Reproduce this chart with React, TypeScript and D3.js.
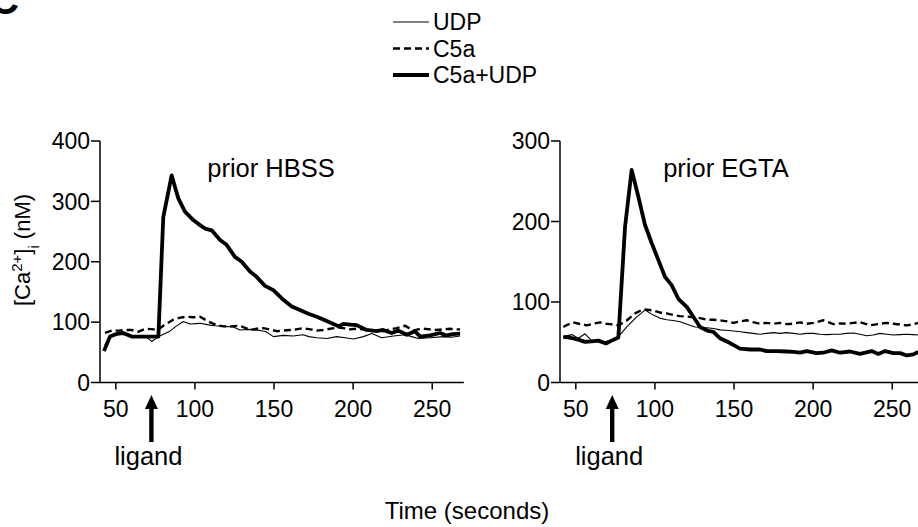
import React from "react";
import * as d3 from "d3";

// ---------- data ----------
const legendLabels = ["UDP", "C5a", "C5a+UDP"];
const panelTitles = ["prior HBSS", "prior EGTA"];
const xTicks = [50, 100, 150, 200, 250];
const leftYTicks = [0, 100, 200, 300, 400];
const rightYTicks = [0, 100, 200, 300];
const ligandTime = [72.5, 73];

// Left panel (prior HBSS)
const leftCombT = [42.5, 46.3, 50, 54.7, 60, 64, 68, 72, 76.9, 80, 85.3, 89.5, 93.7, 99, 102.5, 106.4, 110.6, 115.9, 120, 125.3, 129.6, 134.8, 139, 144.3, 149.6, 155.9, 161.2, 166.4, 171.7, 177, 182.2, 186.5, 190.7, 193.8, 198, 202.2, 208.5, 214.8, 219, 224.4, 228.6, 233.9, 239, 242.4, 248.6, 255, 259, 263, 267.6];
const leftCombV = [52, 76, 80, 82, 76, 76, 76, 76, 76, 274, 343, 305, 283, 269, 262, 255, 252, 236, 228, 208, 200, 184, 175, 160, 153, 137, 126, 120, 114, 109, 103, 98, 93, 97, 96, 95, 87, 85, 87, 82, 86, 79, 85, 76, 78, 82, 78, 80, 81];

const leftUdpT = [43, 46, 50, 55, 60, 65, 70, 72.7, 77, 84.2, 88, 92.7, 96.9, 103.2, 109.5, 113, 118, 124.3, 128.5, 134.8, 141.2, 145, 149.6, 155.9, 162.2, 168.5, 172, 177, 183.3, 189.6, 195, 200.2, 206.5, 211.8, 218.1, 225.5, 232.9, 237, 241.3, 248.6, 257, 262, 267.6];
const leftUdpV = [62, 76, 80, 79, 77, 76, 74, 68, 76, 85, 93, 101, 97, 98, 95, 94, 93, 92, 87, 88, 86, 84, 76, 78, 77, 79, 76, 74, 73, 76, 74, 72, 76, 81, 74, 77, 79, 76, 73, 74, 76, 75, 77];

const leftC5aT = [43.2, 47.4, 52, 56, 60, 64, 68.9, 74, 77, 80, 86.3, 90, 94.8, 99, 103.2, 108.5, 113.7, 118, 122.2, 128.5, 134.8, 139, 143.3, 147, 151.7, 156, 160.2, 164, 168.5, 173, 177, 181, 185.5, 190, 193.8, 198, 202.2, 206, 210.6, 215, 219, 223, 227.5, 232.9, 238, 241, 244.4, 248.6, 252.8, 257, 261.2, 264, 267.6];
const leftC5aV = [82, 86, 86, 87, 87, 84, 89, 88, 88, 94, 104, 107, 109, 108, 109, 101, 95, 93, 93, 94, 87, 89, 90, 88, 85, 86, 87, 88, 90, 88, 86, 87, 89, 91, 90, 88, 89, 88, 87, 86, 85, 88, 90, 94, 86, 88, 89, 88, 87, 88, 89, 88, 88];

// Right panel (prior EGTA)
const rightCombT = [42.1, 45, 48.4, 52, 55.8, 60, 64.2, 69.1, 72.6, 76.9, 81.1, 85.3, 89.5, 93.7, 98, 102.2, 106.4, 110.6, 114.8, 120.1, 124.3, 128.5, 133.7, 136.9, 141.1, 147.5, 153.8, 160.1, 166.4, 170.6, 177, 183.3, 187.5, 191.7, 195.9, 202.2, 206.4, 211.7, 217, 223.3, 229.6, 233, 237, 241.2, 245.5, 250.7, 255, 259.2, 263.4, 266.4];
const rightCombV = [56.7, 56, 54.7, 53, 50.5, 51, 52, 48.5, 52, 56, 193, 264, 231, 196, 173, 152, 131, 121, 104, 94, 81.6, 69, 64, 63, 55, 49, 42, 41, 41, 39, 39, 38.5, 38, 37, 39, 36.5, 37, 40, 37, 38.5, 35.5, 37, 39, 35.5, 39, 36.5, 36.5, 33.6, 35, 38];

const rightUdpT = [42.1, 47.4, 51.6, 55.8, 60, 64, 68.5, 72.6, 76.9, 82.2, 88.5, 93.7, 99, 103, 107.4, 111.5, 115.9, 122.2, 125.4, 132.8, 137, 141.2, 145, 149.6, 154, 158.1, 162, 166.4, 170.5, 174.9, 179, 183.3, 187.5, 191.7, 196, 200.2, 204.5, 208.6, 213, 217, 221, 225.4, 229.6, 233.8, 238, 242.2, 246.5, 250.7, 255, 259.2, 263, 266.3];
const rightUdpV = [56.7, 59.5, 55, 60.5, 52, 51, 50.5, 53, 57, 69, 81.6, 90, 83.7, 80, 78, 77, 75.4, 71, 69, 68, 67, 65.4, 65, 64, 63, 62, 61, 60, 61, 62, 61, 62, 61, 60, 61, 61, 60, 59.5, 60, 60, 61, 61.5, 60, 58, 59, 61, 60, 59, 59.5, 60, 59.5, 59];

const rightC5aT = [42.1, 45, 48.4, 52, 56.9, 61, 65.4, 69, 71.7, 76.9, 82.2, 87.4, 92.6, 99, 103, 107.4, 111.5, 115.9, 120, 124.3, 128.5, 132.8, 137, 141.2, 145.5, 149.6, 154, 158.1, 162, 166.4, 170.5, 174.9, 179, 183.3, 187.5, 191.7, 196, 200.2, 206.4, 212.8, 217, 221.2, 225.5, 229.6, 236, 242.3, 246.5, 250.7, 255, 259.2, 263, 266.3];
const rightC5aV = [69, 72, 74.7, 73, 71, 73, 74.7, 73, 72.5, 71, 77, 85.8, 91, 89.5, 87, 85.8, 84, 82.4, 82, 81, 80, 78, 78, 77.3, 76, 74, 76, 77.3, 75, 73, 74, 73, 74, 72.5, 73, 74.7, 73, 74, 77.3, 72.5, 73.5, 73, 74, 75, 71, 73, 74, 73, 72, 71, 72, 74];

// ---------- styles ----------
const FONT = "'Liberation Sans', Arial, Helvetica, sans-serif";
const FS = 23;
const FS_BIG = 25.5;
const seriesStyles = [
  { width: 1.1, dash: "none" },
  { width: 2.4, dash: "7,4" },
  { width: 3.8, dash: "none" },
];

const zip = (t: number[], v: number[]) => t.map((x, i) => [x, v[i]] as [number, number]);

type PanelProps = {
  x0: number;
  yMax: number;
  yTicks: number[];
  title: string;
  titleX: number;
  series: [number, number][][];
  ligand: number;
};

function Panel({ x0, yMax, yTicks, title, titleX, series, ligand }: PanelProps) {
  const xs = d3.scaleLinear().domain([40, 270]).range([x0, x0 + 230 * 1.582]);
  const ys = d3.scaleLinear().domain([0, yMax]).range([382.5, 141]);
  const line = d3
    .line<[number, number]>()
    .x((d) => xs(d[0]))
    .y((d) => ys(d[1]))
    .curve(d3.curveLinear);
  const axisY = ys(0);
  const ax = xs(ligand);
  const tipY = 395;
  const botY = 442;
  const arrowPath = `M${ax},${tipY} L${ax + 6.5},${tipY + 14} L${ax + 2.2},${tipY + 14} L${ax + 2.2},${botY} L${ax - 2.2},${botY} L${ax - 2.2},${tipY + 14} L${ax - 6.5},${tipY + 14} Z`;
  return (
    <g>
      {series.map((s, i) => (
        <path
          key={i}
          d={line(s) || ""}
          fill="none"
          stroke="#000"
          strokeWidth={seriesStyles[i].width}
          strokeDasharray={seriesStyles[i].dash}
          strokeLinejoin="round"
        />
      ))}
      {/* y axis */}
      <line x1={x0} x2={x0} y1={ys(yMax)} y2={axisY} stroke="#000" strokeWidth={1.5} />
      {yTicks.map((t) => (
        <g key={t}>
          <line x1={x0 - 9} x2={x0} y1={ys(t)} y2={ys(t)} stroke="#000" strokeWidth={1.5} />
          <text x={x0 - 10} y={ys(t)} dy="0.36em" textAnchor="end" fontSize={FS} fontFamily={FONT}>
            {t}
          </text>
        </g>
      ))}
      {/* x axis */}
      <line x1={x0} x2={xs(270)} y1={axisY} y2={axisY} stroke="#000" strokeWidth={1.5} />
      {xTicks.map((t) => (
        <g key={t}>
          <line x1={xs(t)} x2={xs(t)} y1={axisY} y2={axisY + 7} stroke="#000" strokeWidth={1.5} />
          <text x={xs(t)} y={416.5} textAnchor="middle" fontSize={FS} fontFamily={FONT}>
            {t}
          </text>
        </g>
      ))}
      <text x={titleX} y={177} textAnchor="middle" fontSize={FS_BIG} fontFamily={FONT}>
        {title}
      </text>
      <path d={arrowPath} fill="#000" />
      <text x={ax - 3} y={465} textAnchor="middle" fontSize={FS_BIG} fontFamily={FONT}>
        ligand
      </text>
    </g>
  );
}

export default function App() {
  const legendX1 = 393;
  const legendX2 = 429;
  const legendRows = [22, 48.5, 75];
  return (
    <svg
      width={918}
      height={527}
      style={{ position: "absolute", left: 0, top: 0, display: "block", background: "#fff" }}
    >
      <rect width={918} height={527} fill="#fff" />
      <text x={-10} y={14} fontSize={40} fontWeight="bold" fontFamily={FONT}>
        C
      </text>
      {/* legend */}
      {legendLabels.map((lab, i) => (
        <g key={lab}>
          <line
            x1={legendX1}
            x2={legendX2}
            y1={legendRows[i]}
            y2={legendRows[i]}
            stroke="#000"
            strokeWidth={seriesStyles[i].width}
            strokeDasharray={seriesStyles[i].dash}
          />
          <text x={433} y={legendRows[i]} dy="0.36em" fontSize={FS} fontFamily={FONT}>
            {lab}
          </text>
        </g>
      ))}
      <Panel
        x0={100}
        yMax={400}
        yTicks={leftYTicks}
        title={panelTitles[0]}
        titleX={271}
        series={[zip(leftUdpT, leftUdpV), zip(leftC5aT, leftC5aV), zip(leftCombT, leftCombV)]}
        ligand={ligandTime[0]}
      />
      <Panel
        x0={560}
        yMax={300}
        yTicks={rightYTicks}
        title={panelTitles[1]}
        titleX={726}
        series={[zip(rightUdpT, rightUdpV), zip(rightC5aT, rightC5aV), zip(rightCombT, rightCombV)]}
        ligand={ligandTime[1]}
      />
      {/* y-axis label */}
      <text
        transform="translate(30,250) rotate(-90)"
        textAnchor="middle"
        fontSize={22}
        fontFamily={FONT}
      >
        [Ca
        <tspan baselineShift="super" fontSize={15}>2+</tspan>
        ]
        <tspan baselineShift="sub" fontSize={15}>i</tspan> (nM)
      </text>
      <text x={467} y={519} textAnchor="middle" fontSize={24} fontFamily={FONT}>
        Time (seconds)
      </text>
    </svg>
  );
}
